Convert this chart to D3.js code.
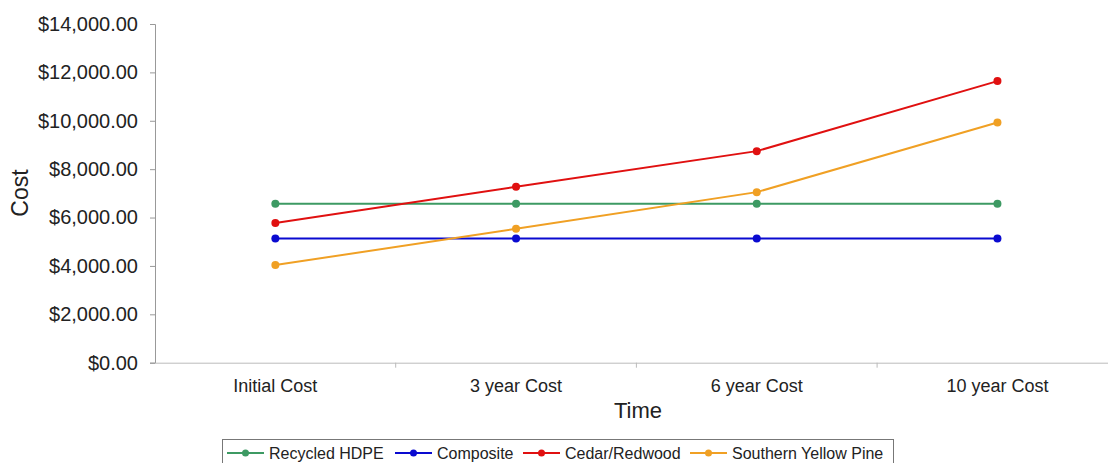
<!DOCTYPE html>
<html>
<head>
<meta charset="utf-8">
<script src="https://cdn.jsdelivr.net/npm/d3@7"></script>
<style>
  body { margin: 0; background: #fff; }
  text { font-family: "Liberation Sans", Arial, sans-serif; fill: #222; }
</style>
</head>
<body>
<div id="chart"></div>
<script>
// --- Data ---
const categories = ["Initial Cost", "3 year Cost", "6 year Cost", "10 year Cost"];
const seriesNames = ["Recycled HDPE", "Composite", "Cedar/Redwood", "Southern Yellow Pine"];
const recycledHDPE = [6575, 6575, 6575, 6575];
const composite = [5130, 5130, 5130, 5130];
const cedarRedwood = [5770, 7270, 8745, 11640];
const southernPine = [4035, 5535, 7050, 9930];
const yTickValues = [0, 2000, 4000, 6000, 8000, 10000, 12000, 14000];
const colors = ["#3d9a63", "#0a0ad0", "#e01010", "#f0a024"];

const series = [recycledHDPE, composite, cedarRedwood, southernPine].map((vals, i) => ({
  name: seriesNames[i],
  color: colors[i],
  values: vals.map((v, j) => ({ cat: categories[j], v: v }))
}));

// --- SVG ---
const W = 1108, H = 463;
const svg = d3.select("#chart").append("svg")
  .attr("width", W).attr("height", H);

// --- Scales ---
const x = d3.scaleBand().domain(categories).range([155, 155 + 4 * 240.7]);
const y = d3.scaleLinear().domain([0, 14000]).range([362.7, 24]);
const fmt = d => "$" + d3.format(",.2f")(d);

// --- Axes ---
const yAxis = svg.append("g")
  .attr("transform", "translate(155,0)")
  .call(d3.axisLeft(y).tickValues(yTickValues).tickFormat(fmt).tickSize(5).tickPadding(12));
yAxis.select(".domain").attr("stroke", "#999");
yAxis.selectAll(".tick line").attr("stroke", "#999");
yAxis.selectAll(".tick text").style("font-size", "20px").attr("fill", "#222");

const xAxis = svg.append("g")
  .attr("transform", "translate(0,362.7)")
  .call(d3.axisBottom(x).tickSize(0).tickPadding(17));
xAxis.select(".domain").attr("stroke", "#bbb");
xAxis.selectAll(".tick text").style("font-size", "18px").attr("fill", "#222");

// tick marks between categories
xAxis.selectAll(".sep")
  .data(categories.slice(1))
  .enter().append("line")
  .attr("x1", d => x(d)).attr("x2", d => x(d))
  .attr("y1", 0).attr("y2", 5)
  .attr("stroke", "#bbb");

// --- Axis titles ---
svg.append("text")
  .attr("transform", "translate(28,193) rotate(-90)")
  .attr("text-anchor", "middle")
  .style("font-size", "23px")
  .text("Cost");

svg.append("text")
  .attr("x", 638).attr("y", 418)
  .attr("text-anchor", "middle")
  .style("font-size", "22px")
  .text("Time");

// --- Lines ---
const line = d3.line()
  .x(d => x(d.cat) + x.bandwidth() / 2)
  .y(d => y(d.v));

svg.selectAll(".line")
  .data(series)
  .enter().append("path")
  .attr("class", "line")
  .attr("fill", "none")
  .attr("stroke", d => d.color)
  .attr("stroke-width", 2)
  .attr("d", d => line(d.values));

series.forEach(s => {
  svg.selectAll(null)
    .data(s.values)
    .enter().append("circle")
    .attr("cx", d => x(d.cat) + x.bandwidth() / 2)
    .attr("cy", d => y(d.v))
    .attr("r", 4)
    .attr("fill", s.color);
});

// --- Legend ---
const legend = svg.append("g");
legend.append("rect")
  .attr("x", 222.5).attr("y", 439.5)
  .attr("width", 671).attr("height", 30)
  .attr("fill", "#fff").attr("stroke", "#777");

const legendX = [227, 395, 523, 690];
series.forEach((s, i) => {
  const g = legend.append("g").attr("transform", `translate(${legendX[i]},453)`);
  g.append("line").attr("x1", 0).attr("x2", 37).attr("y1", 0).attr("y2", 0)
    .attr("stroke", s.color).attr("stroke-width", 2);
  g.append("circle").attr("cx", 18.5).attr("cy", 0).attr("r", 3.5).attr("fill", s.color);
  g.append("text").attr("x", 42).attr("y", 6)
    .style("font-size", "16px")
    .text(s.name);
});
</script>
</body>
</html>
